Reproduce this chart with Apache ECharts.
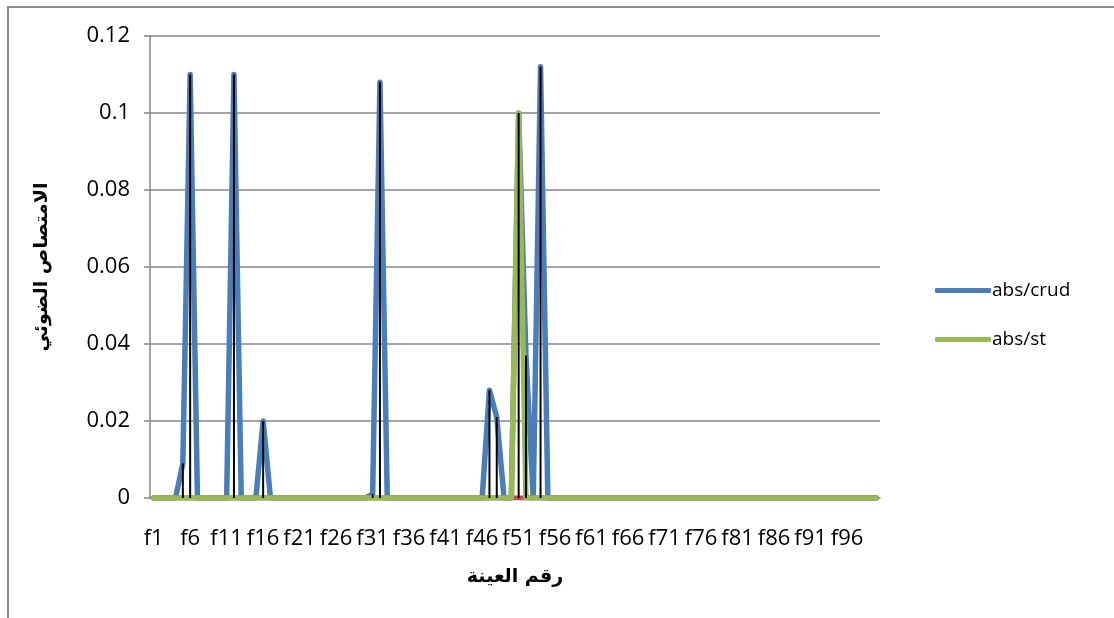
<!DOCTYPE html>
<html>
<head>
<meta charset="utf-8">
<script src="https://cdn.jsdelivr.net/npm/echarts@6/dist/echarts.min.js"></script>
<style>
  html, body { margin: 0; padding: 0; background: #fff; }
  #chart { width: 1114px; height: 618px; }
</style>
</head>
<body>
<div id="chart"></div>
<script>
// samples f1 .. f100
const categories = [];
for (let i = 1; i <= 100; i++) categories.push('f' + i);

// non-zero readings, everything else is 0
const crudPeaks = { f5: 0.009, f6: 0.11, f12: 0.11, f16: 0.02, f31: 0.001, f32: 0.108,
                    f47: 0.028, f48: 0.021, f51: 0.1, f52: 0.037, f54: 0.112 };
const stPeaks = { f51: 0.1 };

const absCrud = categories.map(c => crudPeaks[c] || 0);
const absSt = categories.map(c => stPeaks[c] || 0);
const absHidden = categories.map(() => 0);
// drop lines go from the highest point down to the axis
const dropLines = categories.map((c, i) => Math.max(absCrud[i], absSt[i]));

const chart = echarts.init(document.getElementById('chart'));
chart.setOption({
  animation: false,
  backgroundColor: '#fff',
  graphic: [{
    type: 'rect',
    shape: { x: 8, y: 7, width: 1300, height: 800 },
    style: { fill: 'none', stroke: '#8c8c8c', lineWidth: 2 },
    silent: true
  }],
  grid: { left: 150, right: 234, top: 36, bottom: 120 },
  legend: {
    data: ['abs/crud', 'abs/st'],
    orient: 'vertical',
    left: 930,
    top: 276,
    itemGap: 30,
    itemWidth: 56,
    itemHeight: 5,
    icon: 'roundRect',
    textStyle: { fontFamily: 'Open Sans', fontSize: 19, color: '#000', padding: [0, 0, 0, -4] }
  },
  xAxis: {
    type: 'category',
    data: categories,
    boundaryGap: true,
    name: 'رقم العينة',
    nameLocation: 'middle',
    nameGap: 70,
    nameTextStyle: { fontFamily: 'DejaVu Sans', fontWeight: 'bold', fontSize: 19, color: '#000' },
    axisLine: { lineStyle: { color: '#868686', width: 1.5 } },
    axisTick: { show: false },
    axisLabel: { interval: 4, margin: 30, fontFamily: 'Open Sans', fontSize: 22, color: '#000' }
  },
  yAxis: {
    type: 'value',
    min: 0,
    max: 0.12,
    interval: 0.02,
    name: 'الامتصاص الضوئي',
    nameLocation: 'middle',
    nameGap: 98,
    nameTextStyle: { fontFamily: 'DejaVu Sans', fontWeight: 'bold', fontSize: 19, color: '#000' },
    axisLine: { show: true, lineStyle: { color: '#868686', width: 1.5 } },
    axisTick: { show: true, length: 6, lineStyle: { color: '#868686', width: 1.5 } },
    axisLabel: { margin: 20, fontFamily: 'Open Sans', fontSize: 22, color: '#000' },
    splitLine: { lineStyle: { color: '#868686', width: 1.5 } }
  },
  series: [
    {
      name: 'abs/crud',
      type: 'line',
      data: absCrud,
      symbol: 'none',
      color: '#4a7ebb',
      lineStyle: { color: '#4a7ebb', width: 5.5, cap: 'round', join: 'round' },
      z: 2
    },
    {
      name: 'abs',
      type: 'line',
      data: absHidden,
      symbol: 'none',
      color: '#be4b48',
      lineStyle: { color: '#be4b48', width: 5, cap: 'round', join: 'round' },
      z: 3
    },
    {
      name: 'abs/st',
      type: 'line',
      data: absSt,
      symbol: 'none',
      color: '#98b954',
      lineStyle: { color: '#98b954', width: 5.5, cap: 'round', join: 'round' },
      z: 4
    },
    {
      name: 'drop',
      type: 'bar',
      data: dropLines,
      barWidth: 2,
      itemStyle: { color: '#000' },
      z: 5
    }
  ]
});
</script>
</body>
</html>
